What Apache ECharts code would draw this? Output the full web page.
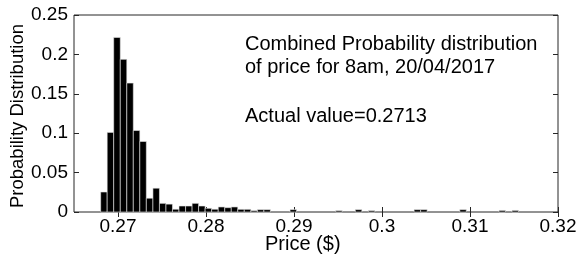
<!DOCTYPE html>
<html>
<head>
<meta charset="utf-8">
<script src="https://cdn.jsdelivr.net/npm/echarts@6/dist/echarts.min.js"></script>
<style>
  html, body { margin: 0; padding: 0; background: #fff; }
  #chart { width: 579px; height: 262px; }
</style>
</head>
<body>
<div id="chart"></div>
<script>
// histogram bins: left and right edge of each non-empty bin, and its probability
const binLeft = [0.26803, 0.26877, 0.26951, 0.27026, 0.27100, 0.27174, 0.27248, 0.27322, 0.27397, 0.27471,
  0.27545, 0.27619, 0.27693, 0.27768, 0.27842, 0.27916, 0.27990, 0.28064, 0.28139, 0.28213,
  0.28287, 0.28361, 0.28435, 0.28510, 0.28584, 0.28658, 0.28955, 0.29474, 0.29697, 0.29845,
  0.30365, 0.30439, 0.30884, 0.31329, 0.31477];
const binRight = [0.26877, 0.26951, 0.27026, 0.27100, 0.27174, 0.27248, 0.27322, 0.27397, 0.27471, 0.27545,
  0.27619, 0.27693, 0.27768, 0.27842, 0.27916, 0.27990, 0.28064, 0.28139, 0.28213, 0.28287,
  0.28361, 0.28435, 0.28510, 0.28584, 0.28658, 0.28732, 0.29029, 0.29548, 0.29771, 0.29919,
  0.30439, 0.30513, 0.30958, 0.31403, 0.31551];
const probability = [0.0254, 0.101, 0.2216, 0.1937, 0.1636, 0.1034, 0.0895, 0.0175, 0.0302, 0.011,
  0.010, 0.0035, 0.0076, 0.0076, 0.011, 0.0076, 0.0047, 0.0035, 0.0064, 0.0055,
  0.0064, 0.0034, 0.0034, 0.0017, 0.003, 0.003, 0.003, 0.0017, 0.003, 0.0017,
  0.003, 0.003, 0.003, 0.002, 0.002];

const xTicks = [0.27, 0.28, 0.29, 0.3, 0.31, 0.32];
const yTicks = [0, 0.05, 0.1, 0.15, 0.2, 0.25];

const infoLines = ['Combined Probability distribution', 'of price for 8am, 20/04/2017', 'Actual value=0.2713'];

const fontFam = 'Arial, "Liberation Sans", sans-serif';
const fmt = v => String(+v.toFixed(2));

const histData = binLeft.map((l, i) => [l, binRight[i], probability[i]]);

const chart = echarts.init(document.getElementById('chart'));

const hiddenLabels = { show: false };
const xBase = {
  type: 'value', min: 0.265, max: 0.32,
  axisLine: { show: false },
  splitLine: { show: false },
  axisTick: { show: true, inside: true, length: 5, customValues: xTicks, lineStyle: { color: '#262626' } }
};
const yBase = {
  type: 'value', min: 0, max: 0.25, interval: 0.05,
  axisLine: { show: false },
  splitLine: { show: false },
  axisTick: { show: true, inside: true, length: 5, lineStyle: { color: '#262626' } }
};

const option = {
  animation: false,
  grid: {
    left: 74, right: 21, top: 15, bottom: 50,
    outerBoundsMode: 'none',
    containLabel: false,
    show: true, borderColor: '#262626', borderWidth: 1, backgroundColor: '#fff'
  },
  xAxis: [
    Object.assign({}, xBase, {
      position: 'bottom',
      axisLabel: { customValues: xTicks, formatter: fmt, color: '#000', fontSize: 19, fontFamily: fontFam, margin: 5 }
    }),
    Object.assign({}, xBase, { position: 'top', axisLabel: hiddenLabels })
  ],
  yAxis: [
    Object.assign({}, yBase, {
      position: 'left',
      axisLabel: { formatter: fmt, color: '#000', fontSize: 19, fontFamily: fontFam, margin: 6 }
    }),
    Object.assign({}, yBase, { position: 'right', axisLabel: hiddenLabels })
  ],
  graphic: [
    {
      type: 'text', x: 18, y: 116, rotation: Math.PI / 2,
      style: { text: 'Probability Distribution', fill: '#000', font: '18.5px ' + fontFam, align: 'center', verticalAlign: 'middle' }
    },
    {
      type: 'text', left: 265, top: 234,
      style: { text: 'Price ($)', fill: '#000', font: '20px ' + fontFam }
    },
    {
      type: 'text', left: 245, top: 34,
      style: { text: infoLines[0], fill: '#000', font: '20px ' + fontFam }
    },
    {
      type: 'text', left: 245, top: 57,
      style: { text: infoLines[1], fill: '#000', font: '20px ' + fontFam }
    },
    {
      type: 'text', left: 245, top: 106,
      style: { text: infoLines[2], fill: '#000', font: '20px ' + fontFam }
    }
  ],
  series: [{
    type: 'custom',
    xAxisIndex: 0,
    yAxisIndex: 0,
    data: histData,
    encode: { x: [0, 1], y: 2 },
    renderItem: function (params, api) {
      const p0 = api.coord([api.value(0), api.value(2)]);
      const p1 = api.coord([api.value(1), 0]);
      return {
        type: 'rect',
        shape: { x: p0[0], y: p0[1], width: p1[0] - p0[0], height: p1[1] - p0[1] },
        style: { fill: '#000', stroke: '#e8e8e8', lineWidth: 0.6 }
      };
    }
  }]
};

chart.setOption(option);
</script>
</body>
</html>
